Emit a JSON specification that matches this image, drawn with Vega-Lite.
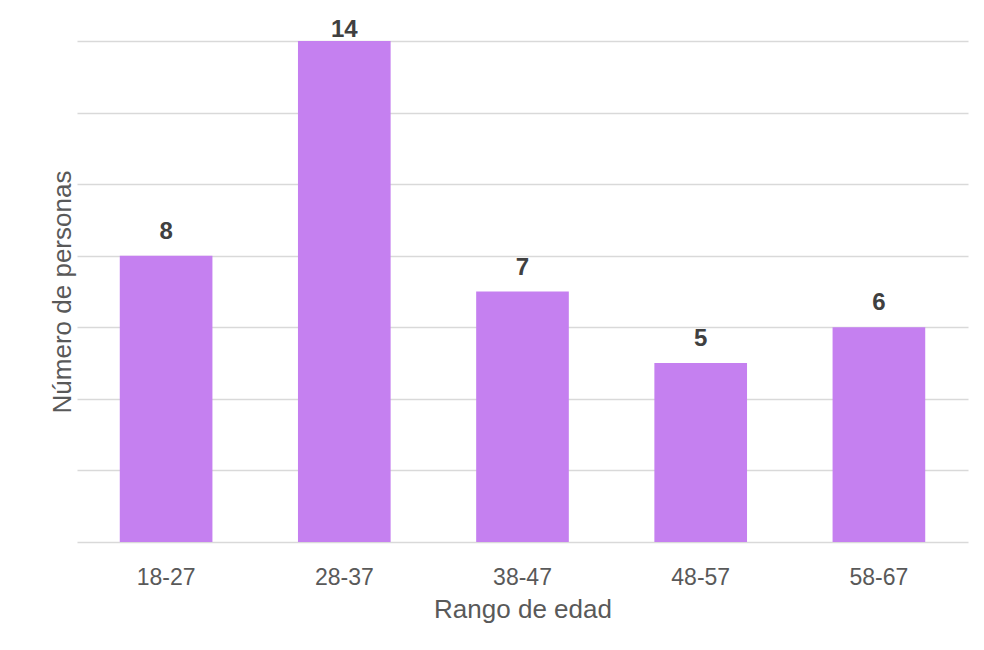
{
  "$schema": "https://vega.github.io/schema/vega-lite/v6.json",
  "width": 891,
  "height": 501,
  "autosize": {"type": "none"},
  "padding": {"left": 77, "top": 41, "right": 16, "bottom": 108},
  "background": "white",
  "config": {"view": {"stroke": null}, "font": "Liberation Sans, Arial, sans-serif",
    "axis": {"labelFont": "Liberation Sans, Arial, sans-serif", "titleFont": "Liberation Sans, Arial, sans-serif"},
    "text": {"font": "Liberation Sans, Arial, sans-serif"}},
  "data": {"values": [
    {"rango": "18-27", "personas": 8},
    {"rango": "28-37", "personas": 14},
    {"rango": "38-47", "personas": 7},
    {"rango": "48-57", "personas": 5},
    {"rango": "58-67", "personas": 6}
  ]},
  "encoding": {
    "x": {"field": "rango", "type": "nominal", "sort": null,
      "scale": {"paddingInner": 0.48, "paddingOuter": 0.24},
      "axis": {"title": "Rango de edad", "labelAngle": 0, "labelFontSize": 23, "labelColor": "#595959",
        "labelPadding": 24, "ticks": false, "tickSize": 0, "domain": false,
        "titleFontSize": 26, "titleFontWeight": "normal", "titleColor": "#595959", "titlePadding": 7}},
    "y": {"field": "personas", "type": "quantitative",
      "scale": {"domain": [0, 14]},
      "axis": {"title": "Número de personas", "values": [0, 2, 4, 6, 8, 10, 12, 14], "labels": false, "ticks": false, "tickSize": 0, "domain": false,
        "grid": true, "gridColor": "#d9d9d9", "gridWidth": 1.5,
        "titleFontSize": 26, "titleFontWeight": "normal", "titleColor": "#595959", "titlePadding": 2}}
  },
  "layer": [
    {"mark": {"type": "bar", "color": "#c580f0"}},
    {"transform": [{"filter": "datum.personas < 14"}],
     "mark": {"type": "text", "font": "Liberation Sans, Arial, sans-serif", "fontSize": 24, "fontWeight": "bold", "color": "#404040", "baseline": "alphabetic", "dy": -17},
     "encoding": {"text": {"field": "personas", "type": "quantitative"}}},
    {"transform": [{"filter": "datum.personas >= 14"}],
     "mark": {"type": "text", "font": "Liberation Sans, Arial, sans-serif", "fontSize": 24, "fontWeight": "bold", "color": "#404040", "baseline": "alphabetic", "dy": -4},
     "encoding": {"text": {"field": "personas", "type": "quantitative"}}}
  ]
}
